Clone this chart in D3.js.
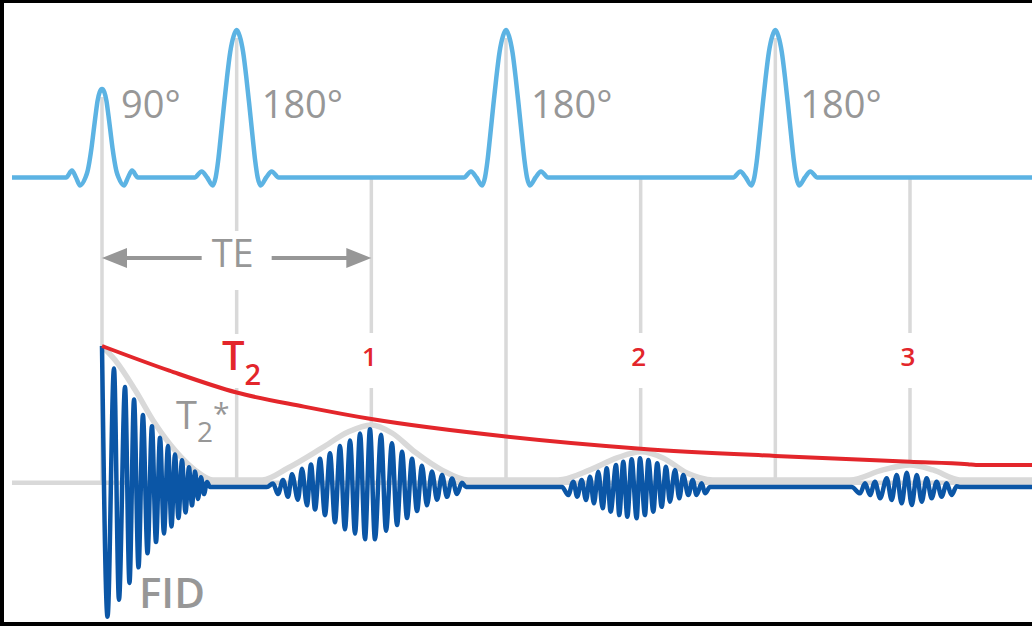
<!DOCTYPE html>
<html>
<head>
<meta charset="utf-8">
<script src="https://cdn.jsdelivr.net/npm/d3@7"></script>
<style>
body { margin: 0; background: #fff; }
svg { display: block; font-family: "Open Sans", "Noto Sans", sans-serif; }
</style>
</head>
<body>
<div id="chart"></div>
<script>
// spin echo sequence, times in ms (TE = 20 ms)
var pulseTimes = [0, 10, 30, 50];
var pulseLabels = ["90°", "180°", "180°", "180°"];
var pulseKinds = ["p90", "p180", "p180", "p180"];

// RF pulse shapes: [offset ms, relative amplitude]
var shape90 = [[-2.67, 0], [-2.23, 0.047], [-1.93, 0], [-1.63, -0.054], [-1.23, 0], [-1.08, 0.04], [-0.93, 0.11], [-0.78, 0.2],
    [-0.63, 0.31], [-0.48, 0.42], [-0.33, 0.52], [-0.17, 0.58], [0, 0.6],
    [0.17, 0.58], [0.33, 0.52], [0.48, 0.42], [0.63, 0.31], [0.78, 0.2], [0.93, 0.11], [1.08, 0.04], [1.23, 0],
    [1.63, -0.054], [1.93, 0], [2.23, 0.047], [2.67, 0]];
var shape180 = [[-3.12, 0], [-2.6, 0.041], [-2.19, 0], [-1.78, -0.054], [-1.56, 0], [-1.38, 0.11], [-1.19, 0.27], [-0.93, 0.5],
    [-0.74, 0.66], [-0.48, 0.85], [-0.22, 0.96], [0, 1],
    [0.22, 0.96], [0.48, 0.85], [0.74, 0.66], [0.93, 0.5], [1.19, 0.27], [1.38, 0.11], [1.56, 0],
    [1.78, -0.054], [2.19, 0], [2.6, 0.041], [3.12, 0]];

var echoTimes = [20, 40, 60];
var echoLabels = ["1", "2", "3"];

// signal extrema [t ms, amplitude %]
var fidSignal = [[0, 100], [0.41, -92], [0.89, 84], [1.26, -80], [1.71, 71], [2.04, -68], [2.38, 62], [2.71, -57], [3.04, 51], [3.38, -47],
    [3.71, 43], [4.01, -39], [4.31, 35], [4.60, -33], [4.90, 29], [5.16, -28], [5.42, 23], [5.68, -22], [5.94, 19], [6.20, -18],
    [6.46, 14], [6.68, -13], [6.91, 11], [7.13, -8.5], [7.35, 7], [7.57, -5], [7.80, 3.5], [8.02, 0]];
var echo1Signal = [[12.25, 0], [12.70, 2.5], [13.07, -5], [13.44, 5], [13.81, -7], [14.11, 9], [14.55, -9], [14.85, 13], [15.22, -13],
    [15.52, 16], [15.82, -16], [16.19, 20], [16.56, -20], [16.93, 24], [17.30, -25], [17.67, 29], [18.04, -30], [18.42, 33], [18.79, -33],
    [19.16, 38], [19.53, -37], [19.90, 41], [20.27, -37], [20.72, 37], [21.09, -31], [21.53, 31], [21.91, -27], [22.28, 25], [22.65, -22],
    [23.02, 20], [23.39, -17], [23.76, 15], [24.13, -13], [24.50, 11], [24.88, -9], [25.25, 8.5], [25.62, -7], [25.99, 6], [26.36, -5],
    [26.73, 3], [27.03, 0]];
var echo2Signal = [[34.16, 0], [34.62, -5.7], [35.00, 3.8], [35.29, -6.9], [35.62, 5], [35.94, -9.2], [36.24, 7.3], [36.53, -11.6],
    [36.85, 10.9], [37.18, -15.1], [37.48, 13.3], [37.77, -17.5], [38.17, 15.6], [38.41, -19.9], [38.71, 17.9], [39.01, -21.1],
    [39.33, 19.6], [39.70, -22.2], [39.95, 20.4], [40.32, -19.9], [40.57, 19.1], [40.94, -17.5], [41.23, 16.8], [41.56, -14],
    [41.88, 14.4], [42.17, -10.4], [42.55, 12.1], [42.87, -8], [43.16, 8.5], [43.54, -5.7], [43.86, 5], [44.15, -5.7], [44.53, 2.6],
    [44.78, -4.5], [45.15, 0]];
var echo3Signal = [[55.67, 0], [56.29, -4.5], [56.66, 2.6], [57.03, -5.7], [57.40, 3.8], [57.78, -8], [58.27, 6.2], [58.64, -9.2],
    [59.01, 8.5], [59.38, -11.6], [59.76, 10.1], [60.13, -12.8], [60.50, 8.5], [60.87, -10.4], [61.24, 6.2], [61.61, -8], [61.98, 3.8],
    [62.35, -6.9], [62.72, 2.6], [63.09, -5.7], [63.47, 0.5], [63.71, 0]];

// T2* envelope and T2 decay [t ms, amplitude %]
var t2StarEnvelope = [[0, 100], [0.97, 90], [2.45, 69], [3.94, 45], [5.42, 26], [6.91, 12], [8.24, 5], [11.9, 5], [13.81, 13.5],
    [16.34, 27.7], [18.27, 39], [20, 44], [21.53, 38.3], [23.24, 24.8], [25.25, 12], [27.18, 5], [33.86, 5], [36.24, 12.1], [38.24, 20.6],
    [40, 25], [41.66, 20.6], [43.44, 9.9], [45.37, 5], [55.54, 5], [57.99, 12.1], [60, 15.6], [61.71, 12.1], [63.71, 5], [69.1, 5]];
var t2Decay = [[0, 100], [5, 82.5], [10, 67], [15, 57], [20, 48.2], [30, 35.8], [40, 27.2], [50, 22], [60, 17.9], [64.3, 16.2],
    [64.9, 15.6], [69.1, 15.6]];
var baselineLevel = 3;

var W = 1032, H = 626;
var pulseBlue = "#5cb3e3", sigBlue = "#0b56a6", red = "#e3262b", lightGray = "#d9d9d9", textGray = "#979797";

var svg = d3.select("#chart").append("svg").attr("width", W).attr("height", H);
svg.append("rect").attr("width", W).attr("height", H).attr("fill", "#fff");

var x = d3.scaleLinear().domain([0, 60]).range([102, 910]);
var ySig = d3.scaleLinear().domain([-100, 100]).range([628, 346]);
var yPulse = d3.scaleLinear().domain([0, 1]).range([177.5, 30]);
var tLeft = x.invert(12), tRight = x.invert(W);

var sigLine = d3.line().x(function (d) { return x(d[0]); }).y(function (d) { return ySig(d[1]); }).curve(d3.curveMonotoneX);
var pulseLine = d3.line().x(function (d) { return x(d[0]); }).y(function (d) { return yPulse(d[1]); }).curve(d3.curveMonotoneX);

var gLines = svg.append("g");
var gKnock = svg.append("g");
var gCurves = svg.append("g");
var gText = svg.append("g");

// gray baseline of signal
gLines.append("path").datum([[tLeft, baselineLevel], [tRight, baselineLevel]])
    .attr("d", d3.line().x(function (d) { return x(d[0]); }).y(function (d) { return ySig(d[1]); }))
    .attr("fill", "none").attr("stroke", lightGray).attr("stroke-width", 4.5);

// vertical guide lines
function shapeOf(kind) { return kind == "p90" ? shape90 : shape180; }
pulseTimes.forEach(function (t, i) {
    var peak = d3.max(shapeOf(pulseKinds[i]), function (d) { return d[1]; });
    gLines.append("line").attr("x1", x(t)).attr("x2", x(t))
        .attr("y1", yPulse(peak) + 8).attr("y2", ySig(baselineLevel))
        .attr("stroke", lightGray).attr("stroke-width", 3.5);
});
echoTimes.forEach(function (t) {
    var env = t2StarEnvelope.find(function (d) { return d[0] == t; });
    gLines.append("line").attr("x1", x(t)).attr("x2", x(t))
        .attr("y1", yPulse(0)).attr("y2", ySig(env[1]))
        .attr("stroke", lightGray).attr("stroke-width", 3.5);
});

// white knockouts behind labels
echoTimes.forEach(function (t) {
    gKnock.append("rect").attr("x", x(t) - 15).attr("y", 333).attr("width", 30).attr("height", 55).attr("fill", "#fff");
});
gKnock.append("rect").attr("x", x(10) - 30).attr("y", 231).attr("width", 60).attr("height", 59).attr("fill", "#fff");
gKnock.append("rect").attr("x", 221).attr("y", 334).attr("width", 48).attr("height", 54).attr("fill", "#fff");

// RF pulse train
var pulsePts = [[tLeft, 0]];
pulseTimes.forEach(function (t, i) {
    shapeOf(pulseKinds[i]).forEach(function (s) { pulsePts.push([t + s[0], s[1]]); });
});
pulsePts.push([tRight, 0]);
gCurves.append("path").datum(pulsePts).attr("d", pulseLine)
    .attr("fill", "none").attr("stroke", pulseBlue).attr("stroke-width", 4.5).attr("stroke-linejoin", "round");

// T2* envelope
gCurves.append("path").datum(t2StarEnvelope).attr("d", sigLine)
    .attr("fill", "none").attr("stroke", lightGray).attr("stroke-width", 5.5);

// FID + echoes
var signal = fidSignal.concat(echo1Signal, echo2Signal, echo3Signal, [[tRight, 0]]);
gCurves.append("path").datum(signal).attr("d", sigLine)
    .attr("fill", "none").attr("stroke", sigBlue).attr("stroke-width", 4.5).attr("stroke-linejoin", "round");

// T2 decay
gCurves.append("path").datum(t2Decay).attr("d", sigLine)
    .attr("fill", "none").attr("stroke", red).attr("stroke-width", 4);

// TE arrow
var arrowY = 258;
gCurves.append("line").attr("x1", x(0) + 10).attr("x2", x(10) - 35).attr("y1", arrowY).attr("y2", arrowY)
    .attr("stroke", textGray).attr("stroke-width", 4);
gCurves.append("line").attr("x1", x(10) + 35).attr("x2", x(20) - 10).attr("y1", arrowY).attr("y2", arrowY)
    .attr("stroke", textGray).attr("stroke-width", 4);
gCurves.append("path").attr("d", "M" + x(0) + "," + arrowY + "l25,-10l0,20z").attr("fill", textGray);
gCurves.append("path").attr("d", "M" + x(20) + "," + arrowY + "l-25,-10l0,20z").attr("fill", textGray);

// labels
pulseTimes.forEach(function (t, i) {
    gText.append("text").attr("x", x(t) + (pulseKinds[i] == "p90" ? 19 : 25)).attr("y", 118)
        .attr("font-size", 38).attr("font-weight", 500).attr("fill", textGray).text(pulseLabels[i]);
});
echoTimes.forEach(function (t, i) {
    gText.append("text").attr("x", x(t) - 2).attr("y", 366).attr("text-anchor", "middle")
        .attr("font-size", 26).attr("font-weight", 600).attr("fill", red).text(echoLabels[i]);
});
gText.append("text").attr("x", x(10) - 4).attr("y", 267).attr("text-anchor", "middle")
    .attr("font-size", 38).attr("font-weight", 500).attr("fill", textGray).text("TE");

var t2Label = gText.append("text").attr("x", 222).attr("y", 370).attr("font-size", 40).attr("font-weight", 600).attr("fill", red);
t2Label.append("tspan").text("T");
t2Label.append("tspan").attr("dy", 15).attr("font-size", 29).text("2");

var t2sLabel = gText.append("text").attr("x", 176).attr("y", 429).attr("font-size", 38).attr("font-weight", 500).attr("fill", textGray);
t2sLabel.append("tspan").text("T");
t2sLabel.append("tspan").attr("dy", 13).attr("font-size", 28).text("2");
t2sLabel.append("tspan").attr("dy", -18).attr("font-size", 30).text("*");

gText.append("text").attr("x", 139).attr("y", 608).attr("font-size", 42).attr("font-weight", 600)
    .attr("fill", textGray).text("FID");

// frame
svg.append("rect").attr("x", 0).attr("y", 0).attr("width", 4).attr("height", H).attr("fill", "#000");
svg.append("rect").attr("x", 0).attr("y", 0).attr("width", W).attr("height", 3).attr("fill", "#000");
svg.append("rect").attr("x", 0).attr("y", 622).attr("width", W).attr("height", 4).attr("fill", "#000");
</script>
</body>
</html>
